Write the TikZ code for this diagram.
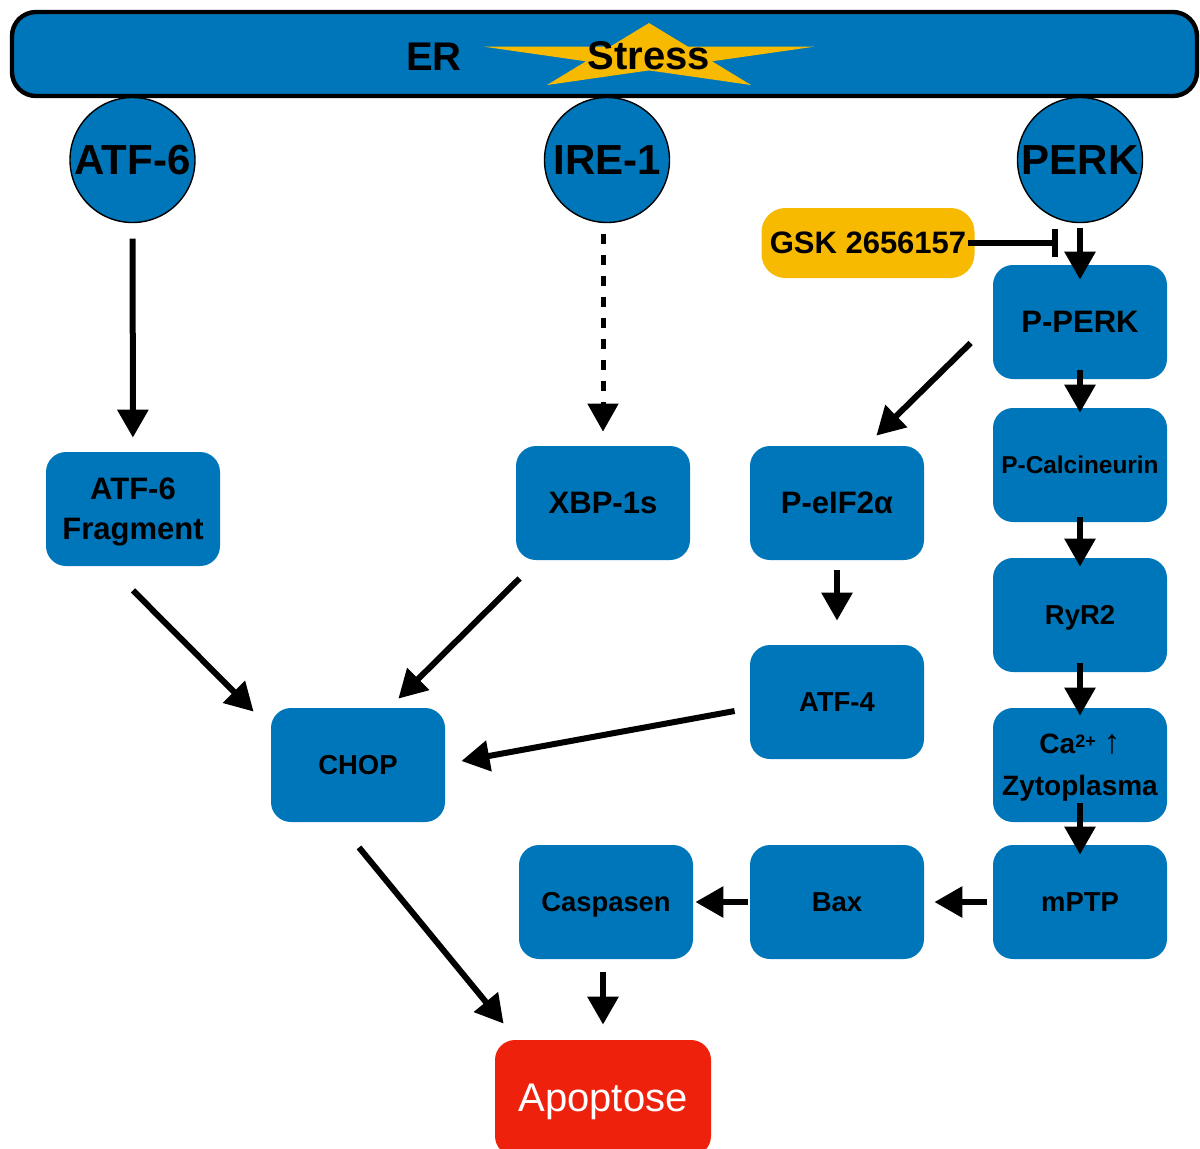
\documentclass[tikz,border=0pt]{standalone}
\usepackage{fontspec}
\setmainfont{Liberation Sans}
\usetikzlibrary{arrows.meta,calc}
\definecolor{kblue}{HTML}{0076BA}
\definecolor{kyellow}{HTML}{F8BA00}
\definecolor{kred}{HTML}{EE220C}
\tikzset{
  box/.style={rectangle, rounded corners=10pt, fill=kblue, minimum width=87pt, minimum height=57pt, align=center, inner sep=0pt, text depth=0pt, font=\bfseries\fontsize{13.7}{17}\selectfont},
  bigtxt/.style={font=\bfseries\fontsize{15.5}{20}\selectfont},
  circ/.style={circle, draw=black, line width=0.7pt, fill=kblue, minimum size=62.5pt, inner sep=0pt, font=\bfseries\fontsize{21}{21}\selectfont},
  arr/.style={line width=3pt, -{Triangle[length=14pt,width=15pt]}},
  dasharr/.style={line width=2.5pt, dash pattern=on 5.25pt off 5.25pt, -{Triangle[length=14pt,width=15pt]}},
  inhib/.style={line width=3pt, -{Bar[width=14pt,line width=3pt]}},
}
\begin{document}
\begin{tikzpicture}[x=0.5pt,y=-0.5pt]
\useasboundingbox (0,0) rectangle (1200,1148);
% ER bar
\draw[line width=2.2pt, fill=kblue, rounded corners=12pt] (12,12) rectangle (1197,96);
% star
\fill[kyellow] (649,23) -- (688,46.7) -- (814,46.7) -- (712,61.3) -- (751,85) -- (649,70.4) -- (547,85) -- (586,61.3) -- (484,46.7) -- (610,46.7) -- cycle;
\node[font=\bfseries\fontsize{20}{20}\selectfont] (er) at (434,57) {ER};
\node[font=\bfseries\fontsize{20}{20}\selectfont] (stress) at (649,56) {Stress};
% receptors
\node[circ] (atf6) at (132.5,160) {ATF-6};
\node[circ] (ire1) at (607,160) {IRE-1};
\node[circ] (perk) at (1080,160) {PERK};
% boxes
\node[box, bigtxt] (atf6f) at (133,509) {ATF-6\\Fragment};
\node[box, bigtxt] (xbp) at (603,503) {XBP-1s};
\node[box, bigtxt] (peif) at (837,503) {P-eIF2α};
\node[box] (atf4) at (837,702) {ATF-4};
\node[box, bigtxt] (pperk) at (1080,322) {P-PERK};
\node[box, font=\bfseries\fontsize{12.2}{14}\selectfont] (pcal) at (1080,465) {P-Calcineurin};
\node[box] (ryr) at (1080,615) {RyR2};
\node[box, font=\bfseries\fontsize{14}{21}\selectfont] (ca) at (1080,765) {Ca\raisebox{3.3pt}{\fontsize{9}{9}\selectfont 2+} {\fontsize{17}{17}\selectfont ↑}\\Zytoplasma};
\node[box] (mptp) at (1080,902) {mPTP};
\node[box] (bax) at (837,902) {Bax};
\node[box] (casp) at (606,902) {Caspasen};
\node[box] (chop) at (358,765) {CHOP};
\node[box, fill=kred, text=white, minimum width=108pt, minimum height=58pt, font=\fontsize{20}{20}\selectfont] (apo) at (603,1098) {Apoptose};
\node[box, bigtxt, fill=kyellow, rounded corners=12pt, minimum width=106.5pt, minimum height=35pt] (gsk) at (868,243) {GSK 2656157};
\coordinate (inh) at (1058,243);
% connectors
\draw[arr, shorten <=7.75pt, shorten >=7pt] (atf6) -- (atf6f);
\draw[dasharr, shorten <=5.25pt, shorten >=7pt] (xbp.north |- ire1.south) -- (xbp.north);
\draw[arr, shorten <=2.25pt, shorten >=-7.5pt] (perk) -- (pperk);
\draw[inhib, shorten <=-3.5pt] (gsk.east) -- (inh);
\draw[arr] ($(pperk.west)+(-22,21)$) -- ($(peif.north east)+(-48,-10)$);
\draw[arr, shorten <=-4.5pt, shorten >=-2.5pt] (pperk) -- (pcal);
\draw[arr, shorten <=-2.5pt, shorten >=-4.5pt] (pcal) -- (ryr);
\draw[arr, shorten <=-4.5pt, shorten >=-4pt] (ryr) -- (ca);
\draw[arr, shorten <=-9.5pt, shorten >=-5pt] (ca) -- (mptp);
\draw[arr, shorten <=3pt, shorten >=5pt] (mptp) -- (bax);
\draw[arr, shorten <=1pt, shorten >=1pt] (bax) -- (casp);
\draw[arr, shorten <=6.5pt, shorten >=7.5pt] (apo.north |- casp.south) -- (apo.north);
\draw[arr, shorten <=5pt, shorten >=12pt] (peif) -- (atf4);
\draw[arr] ($(atf4.west)+(-15,9)$) -- ($(chop.east)+(16,-4)$);
\draw[arr] ($(atf6f.south)+(0,24)$) -- ($(chop.north west)+(-17,4)$);
\draw[arr] ($(xbp.south west)+(4,18)$) -- ($(chop.north east)+(-47,-9)$);
\draw[arr] ($(chop.south)+(1,25)$) -- ($(apo.north west)+(9,-16)$);
\end{tikzpicture}
\end{document}
